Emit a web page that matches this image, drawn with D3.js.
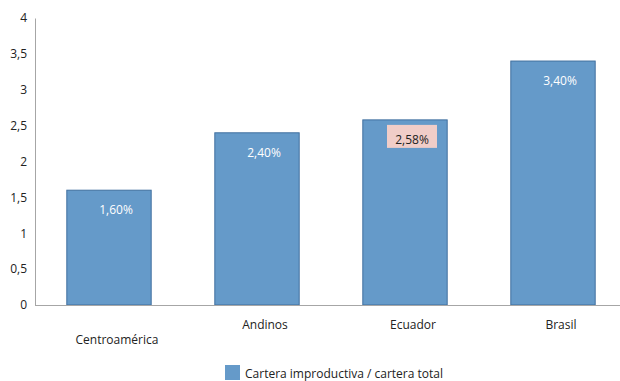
<!DOCTYPE html>
<html>
<head>
<meta charset="utf-8">
<title>Cartera improductiva</title>
<script src="https://cdn.jsdelivr.net/npm/d3@7"></script>
<style>
  body { margin: 0; background: #fff; }
  text { font-family: "Open Sans", sans-serif; }
</style>
</head>
<body>
<script>
var categories = ["Centroamérica", "Andinos", "Ecuador", "Brasil"];
var values = [1.60, 2.40, 2.58, 3.40];
var valueLabels = ["1,60%", "2,40%", "2,58%", "3,40%"];
var yTicks = [0, 0.5, 1, 1.5, 2, 2.5, 3, 3.5, 4];
var seriesName = "Cartera improductiva / cartera total";

var width = 620, height = 381,
    plotLeft = 35, plotTop = 18, plotBottom = 305, plotRight = 627;

var svg = d3.select("body").append("svg")
    .attr("width", width)
    .attr("height", height);

var x = d3.scaleBand().domain(categories).range([plotLeft, plotRight]).paddingInner(0.43).paddingOuter(0.215);
var y = d3.scaleLinear().domain([0, 4]).range([plotBottom, plotTop]);

// y axis
var yAxis = svg.append("g")
    .attr("transform", "translate(" + plotLeft + ",0)")
    .call(d3.axisLeft(y).tickValues(yTicks).tickSize(0).tickPadding(8)
        .tickFormat(function (d) { return String(d).replace(".", ","); }));
yAxis.select(".domain").attr("stroke", "#a6a6a6");
yAxis.selectAll("text").attr("font-size", 12).attr("fill", "#222").attr("font-family", "Open Sans, sans-serif");

// bars
svg.selectAll("rect.bar")
    .data(values)
    .enter()
    .append("rect")
    .attr("class", "bar")
    .attr("x", function (d, i) { return x(categories[i]); })
    .attr("y", function (d) { return y(d); })
    .attr("width", x.bandwidth())
    .attr("height", function (d) { return y(0) - y(d); })
    .attr("fill", "#659ac9")
    .attr("stroke", "#3f6f9f")
    .attr("stroke-width", 1);

// x axis line
svg.append("line")
    .attr("x1", plotLeft).attr("x2", width)
    .attr("y1", plotBottom + 0.5).attr("y2", plotBottom + 0.5)
    .attr("stroke", "#a6a6a6");

// value labels
var labels = svg.selectAll("g.vlabel")
    .data(values)
    .enter()
    .append("g")
    .attr("class", "vlabel")
    .attr("transform", function (d, i) {
        return "translate(" + (x(categories[i]) + x.bandwidth() / 2 + 7) + "," + (y(d) + 20) + ")";
    });

labels.filter(function (d, i) { return i === 2; })
    .append("rect")
    .attr("x", -25).attr("y", -15)
    .attr("width", 50).attr("height", 23)
    .attr("fill", "#f0cdc8");

labels.append("text")
    .attr("text-anchor", "middle")
    .attr("dy", "0.35em")
    .attr("font-size", 12)
    .attr("fill", function (d, i) { return i === 2 ? "#222" : "#fff"; })
    .text(function (d, i) { return valueLabels[i]; });

// category labels
svg.selectAll("text.cat")
    .data(categories)
    .enter()
    .append("text")
    .attr("class", "cat")
    .attr("x", function (d) { return x(d) + x.bandwidth() / 2 + 8; })
    .attr("y", function (d, i) { return i === 0 ? 344 : 329; })
    .attr("text-anchor", "middle")
    .attr("font-size", 12)
    .attr("fill", "#222")
    .text(function (d) { return d; });

// legend
svg.append("rect")
    .attr("x", 225).attr("y", 365)
    .attr("width", 15).attr("height", 15)
    .attr("fill", "#659ac9");
svg.append("text")
    .attr("x", 245).attr("y", 378)
    .attr("font-size", 12)
    .attr("fill", "#222")
    .text(seriesName);
</script>
</body>
</html>
